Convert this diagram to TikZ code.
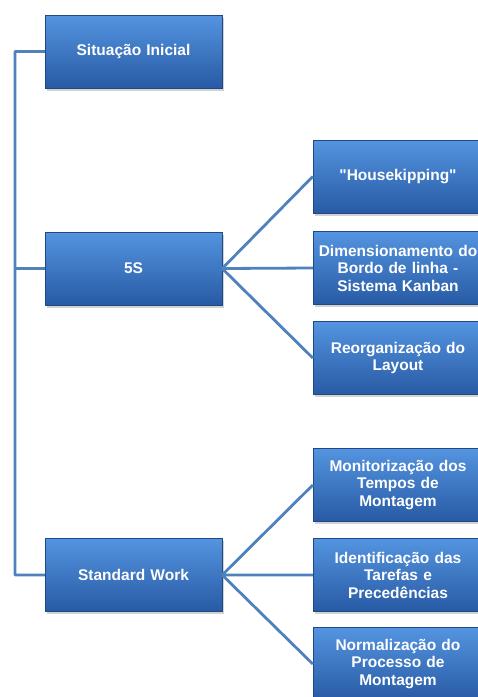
\documentclass[tikz,border=0pt]{standalone}
\usepackage{fontspec}
\newfontfamily\boxfont{Liberation Sans}
\usetikzlibrary{positioning,shadows}
\definecolor{boxtop}{RGB}{84,148,224}
\definecolor{boxbot}{RGB}{40,90,164}
\definecolor{linkcol}{RGB}{79,129,189}
\tikzset{
blk/.style={rectangle,draw=boxbot!80!black,line width=0.4pt,
  top color=boxtop,bottom color=boxbot,
  minimum width=177pt,minimum height=73pt,inner sep=1pt,
  text width=174pt,align=center,text=white,
  font=\boxfont\bfseries\fontsize{15.5}{17.5}\selectfont,
  drop shadow={opacity=0.35,shadow xshift=1.5pt,shadow yshift=-2.5pt}},
rblk/.style={blk,minimum width=170pt,text width=164pt},
conn/.style={draw=linkcol,line width=2.8pt,line join=round},
}
\begin{document}
\begin{tikzpicture}[x=1pt,y=-1pt]
\clip (0,0) rectangle (478,697);
\fill[white] (0,0) rectangle (478,697);
\coordinate (trunk) at (15,0);

% left column
\node[blk] (sit) at (133.5,51.5) {Situação Inicial};
\node[blk] (fives) at (133.5,268.5) {5S};
\node[blk] (std) at (133.5,575) {Standard Work};

% 5S branch
\node[rblk] (hk) at (398,176.5) {"Housekipping"};
\node[rblk] (dim) at (398,268) {Dimensionamento do\\Bordo de linha -\\Sistema Kanban};
\node[rblk] (reorg) at (398,358) {Reorganização do\\Layout};

% standard work branch
\node[rblk] (mon) at (398,485) {Monitorização dos\\Tempos de\\Montagem};
\node[rblk] (ident) at (398,575) {Identificação das\\Tarefas e\\Precedências};
\node[rblk] (norm) at (398,664) {Normalização do\\Processo de\\Montagem};

\path[conn]
(sit.west) -- (sit.west -| trunk) -- (std.west -| trunk) -- (std.west)
(fives.west) -- (fives.west -| trunk)
(fives.east) -- (hk.west)
(fives.east) -- (dim.west)
(fives.east) -- (reorg.west)
(std.east) -- (mon.west)
(std.east) -- (ident.west)
(std.east) -- (norm.west)
;
\end{tikzpicture}
\end{document}
